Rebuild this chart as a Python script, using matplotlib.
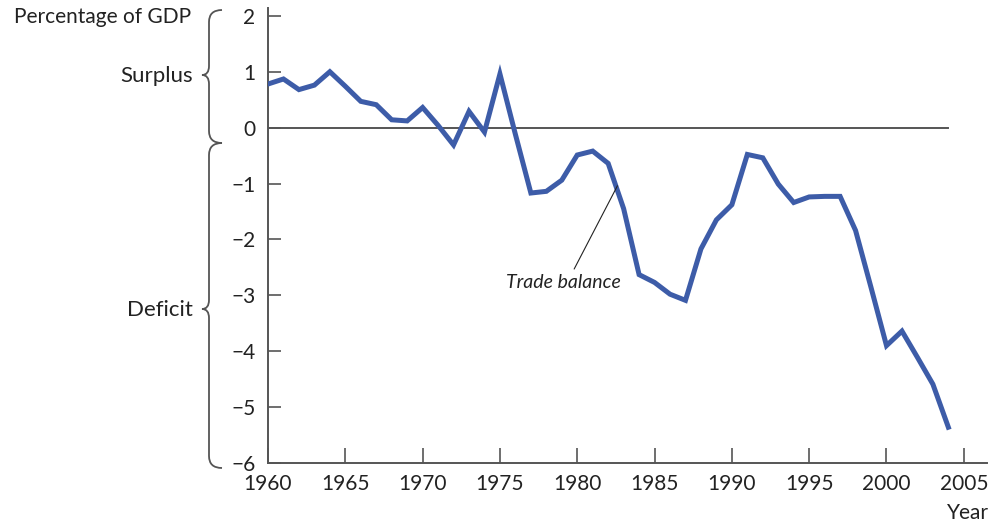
import numpy as np
import matplotlib.pyplot as plt
from matplotlib.path import Path
from matplotlib.patches import PathPatch

plt.rcParams['font.family'] = ['Lato', 'DejaVu Sans']

# US trade balance, percentage of GDP
years = list(range(1960, 2005))
balance = [0.78, 0.87, 0.68, 0.76, 1.00, 0.74, 0.47, 0.41, 0.14, 0.12,
           0.36, 0.04, -0.31, 0.29, -0.08, 0.96, -0.12, -1.17, -1.14, -0.94,
           -0.49, -0.42, -0.64, -1.45, -2.63, -2.77, -2.98, -3.09, -2.17, -1.65,
           -1.38, -0.48, -0.54, -1.01, -1.34, -1.24, -1.23, -1.23, -1.84, -2.86,
           -3.90, -3.64, -4.11, -4.59, -5.36]
yticks = [2, 1, 0, -1, -2, -3, -4, -5, -6]
xticks = [1960, 1965, 1970, 1975, 1980, 1985, 1990, 1995, 2000, 2005]

W, H = 995, 528
fig = plt.figure(figsize=(W / 100, H / 100), dpi=100)
ax = fig.add_axes([268 / W, 1 - 463 / H, 719 / W, 455 / H])

gray = '#555555'
ink = '#222222'
ax.axhline(0, xmin=0, xmax=(2004 - 1960) / 46.5, color=gray, lw=1.4, zorder=1)
ax.plot(years, balance, color='#3d5ca8', lw=3.6, solid_joinstyle='miter', zorder=3)

ax.set_xlim(1960, 2006.5)
ax.set_ylim(-6, 2.14)
ax.set_xticks(xticks)
ax.set_yticks(yticks)
ax.set_yticklabels([str(v).replace('-', '\u2212') for v in yticks])
for s in ['top', 'right']:
    ax.spines[s].set_visible(False)
for s in ['left', 'bottom']:
    ax.spines[s].set_color(gray)
    ax.spines[s].set_linewidth(1.4)
ax.tick_params(axis='y', direction='in', length=9, width=1.2, color=gray,
               labelsize=15, pad=9, labelcolor=ink)
ax.tick_params(axis='x', direction='in', length=11, width=1.2, color=gray,
               labelsize=15, pad=8, labelcolor=ink)

# annotation
ax.annotate('', xy=(1982.6, -1.04), xytext=(1979.8, -2.53),
            arrowprops=dict(arrowstyle='-', color=ink, lw=0.8,
                            shrinkA=0, shrinkB=0))
ax.text(1979.1, -2.77, 'Trade balance', fontsize=14, style='italic',
        ha='center', va='center', color=ink)


# braces drawn in image pixel coordinates
def px(x, y):
    return (x / W, 1 - y / H)


def brace(y1, ym, y2, x0=209, xt=202, xe=222):
    pts = [px(xe, y1), px(x0, y1), px(x0, y1 + 12),
           px(x0, ym - 9), px(x0, ym), px(xt, ym),
           px(x0, ym), px(x0, ym + 9),
           px(x0, y2 - 12), px(x0, y2), px(xe, y2)]
    codes = [Path.MOVETO, Path.CURVE3, Path.CURVE3,
             Path.LINETO, Path.CURVE3, Path.CURVE3,
             Path.CURVE3, Path.CURVE3,
             Path.LINETO, Path.CURVE3, Path.CURVE3]
    fig.add_artist(PathPatch(Path(pts, codes), fill=False, ec=gray, lw=1.3,
                             transform=fig.transFigure))


brace(10, 75, 143)
brace(143, 309, 468)

fig.text(*px(14, 17), 'Percentage of GDP', fontsize=15, ha='left', va='center', color=ink)
fig.text(*px(193, 76), 'Surplus', fontsize=16, ha='right', va='center', color=ink)
fig.text(*px(193, 310), 'Deficit', fontsize=16, ha='right', va='center', color=ink)
fig.text(*px(968, 513), 'Year', fontsize=15, ha='center', va='center', color=ink)

fig.savefig('out.png', dpi=100)
